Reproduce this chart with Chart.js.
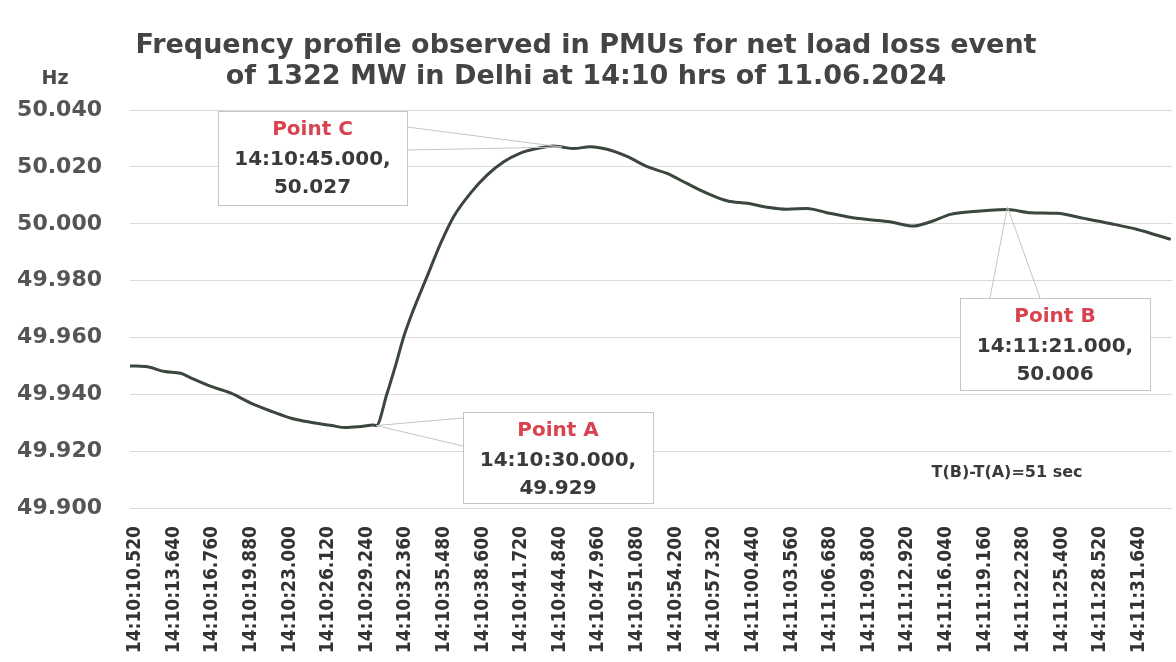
<!DOCTYPE html>
<html>
<head>
<meta charset="utf-8">
<script src="https://cdn.jsdelivr.net/npm/chart.js@4.4.1/dist/chart.umd.min.js"></script>
<style>
  body { margin: 0; background: #fff; }
  #wrap { width: 1176px; height: 662px; position: relative; }
</style>
</head>
<body>
<div id="wrap"><canvas id="freq-chart"></canvas></div>
<script>
// Frequency samples (seconds after 14:10:00, Hz)
const times = [
  10.1, 11.6, 12.9, 14.2, 15.1, 16.7, 18.3, 19.9, 21.6, 23.2, 24.8, 26.4,
  27.5, 28.6, 29.8, 30.0, 30.85, 31.65, 32.2, 33.0, 34.1, 35.2, 36.25, 37.6,
  38.95, 40.3, 41.6, 43.0, 44.3, 45.0, 45.95, 47.3, 48.65, 50.3, 51.9, 53.5,
  55.1, 56.75, 58.4, 60.0, 61.6, 63.2, 64.8, 66.4, 68.05, 69.7, 71.5, 73.4,
  74.8, 76.4, 78.0, 79.6, 81.0, 82.9, 85.0, 87.2, 89.3, 91.5, 94.2
];
const freq = [
  49.950, 49.9496, 49.948, 49.9474, 49.9456, 49.9427, 49.9403, 49.9368, 49.9339, 49.9315, 49.9301, 49.9290,
  49.9283, 49.9286, 49.9292, 49.929, 49.9400, 49.9515, 49.9600, 49.9697, 49.9814, 49.9931, 50.0025, 50.0107,
  50.0171, 50.0218, 50.0248, 50.0265, 50.0274, 50.027, 50.0265, 50.0271, 50.0262, 50.0236, 50.0201, 50.0177,
  50.0142, 50.0107, 50.0080, 50.0072, 50.0058, 50.0051, 50.0054, 50.0039, 50.0025, 50.0015, 50.0007, 49.9992,
  50.0007, 50.0033, 50.0042, 50.0048, 50.0050, 50.0039, 50.0037, 50.0019, 50.0001, 49.9980, 49.9945
];

const tickLabels = [
  "14:10:10.520", "14:10:13.640", "14:10:16.760", "14:10:19.880", "14:10:23.000",
  "14:10:26.120", "14:10:29.240", "14:10:32.360", "14:10:35.480", "14:10:38.600",
  "14:10:41.720", "14:10:44.840", "14:10:47.960", "14:10:51.080", "14:10:54.200",
  "14:10:57.320", "14:11:00.440", "14:11:03.560", "14:11:06.680", "14:11:09.800",
  "14:11:12.920", "14:11:16.040", "14:11:19.160", "14:11:22.280", "14:11:25.400",
  "14:11:28.520", "14:11:31.640"
];

// Marked points
const pointNames = ["Point A", "Point B", "Point C"];
const pointTimes = ["14:10:30.000", "14:11:21.000", "14:10:45.000"];
const pointValues = [49.929, 50.006, 50.027];

const toSec = (s) => {
  const p = s.split(":");
  return (+p[1] - 10) * 60 + parseFloat(p[2]);
};

// callout boxes: [left, top, right, bottom] and where the wedge attaches
const boxes = [
  { rect: [463, 412, 653, 503], wedge: [[463, 418], [463, 446]] },
  { rect: [960, 298, 1150, 390], wedge: [[990, 298], [1040, 298]] },
  { rect: [218, 111, 407, 205], wedge: [[407, 127], [407, 150]] },
];

const callouts = {
  id: "callouts",
  afterDatasetsDraw(chart) {
    const { ctx, scales } = chart;
    ctx.save();
    pointNames.forEach((name, i) => {
      const px = scales.x.getPixelForValue(toSec(pointTimes[i]));
      const py = scales.y.getPixelForValue(pointValues[i]);
      const [l, t, r, b] = boxes[i].rect;
      const [w1, w2] = boxes[i].wedge;

      ctx.strokeStyle = "#c4c4c4";
      ctx.lineWidth = 1;
      ctx.beginPath();
      ctx.moveTo(w1[0], w1[1]);
      ctx.lineTo(px, py);
      ctx.lineTo(w2[0], w2[1]);
      ctx.stroke();

      ctx.fillStyle = "#fff";
      ctx.fillRect(l, t, r - l, b - t);
      ctx.strokeRect(l + 0.5, t + 0.5, r - l, b - t);

      const cx = (l + r) / 2;
      ctx.textAlign = "center";
      ctx.textBaseline = "middle";
      ctx.font = "bold 20px 'DejaVu Sans'";
      ctx.fillStyle = "#d9434f";
      ctx.fillText(name, cx, t + 19);
      ctx.fillStyle = "#3a3a3a";
      ctx.fillText(pointTimes[i] + ",", cx, t + 49);
      ctx.fillText(pointValues[i].toFixed(3), cx, t + 77);
    });

    ctx.font = "bold 16px 'DejaVu Sans'";
    ctx.fillStyle = "#3a3a3a";
    ctx.textAlign = "center";
    ctx.fillText("T(B)-T(A)=51 sec", 1007, 473);

    ctx.font = "bold 19px 'DejaVu Sans'";
    ctx.fillStyle = "#4a4a4a";
    ctx.fillText("Hz", 55, 79);
    ctx.restore();
  },
};

new Chart(document.getElementById("freq-chart"), {
  type: "line",
  data: {
    datasets: [
      {
        data: times.map((t, i) => ({ x: t, y: freq[i] })),
        borderColor: "#3b463c",
        borderWidth: 3,
        pointRadius: 0,
        cubicInterpolationMode: "monotone",
      },
    ],
  },
  options: {
    responsive: true,
    maintainAspectRatio: false,
    animation: false,
    layout: { padding: { right: 4 } },
    plugins: {
      legend: { display: false },
      tooltip: { enabled: false },
      title: {
        display: true,
        text: [
          "Frequency profile observed in PMUs for net load loss event",
          "of 1322 MW in Delhi at 14:10 hrs of 11.06.2024",
        ],
        color: "#444",
        font: { family: "'DejaVu Sans'", size: 27, weight: "bold", lineHeight: 1.15 },
        padding: { top: 30, bottom: 18 },
      },
    },
    scales: {
      x: {
        type: "linear",
        min: 10.1,
        max: 94.3,
        grid: { display: false },
        border: { display: false },
        afterBuildTicks: (scale) => {
          scale.ticks = tickLabels.map((l) => ({ value: toSec(l) }));
        },
        afterFit: (scale) => { scale.height = 154; },
        ticks: {
          autoSkip: false,
          minRotation: 90,
          maxRotation: 90,
          padding: 10,
          color: "#333",
          font: { family: "'DejaVu Sans Condensed'", size: 19, weight: "bold" },
          callback: (v, i) => tickLabels[i],
        },
      },
      y: {
        min: 49.9,
        max: 50.04,
        grid: { color: "#dadada", drawTicks: false },
        border: { display: false },
        afterFit: (scale) => { scale.width = 130; },
        ticks: {
          stepSize: 0.02,
          padding: 28,
          color: "#555",
          font: { family: "'DejaVu Sans'", size: 22, weight: "bold" },
          callback: (v) => v.toFixed(3),
        },
      },
    },
  },
  plugins: [callouts],
});
</script>
</body>
</html>
